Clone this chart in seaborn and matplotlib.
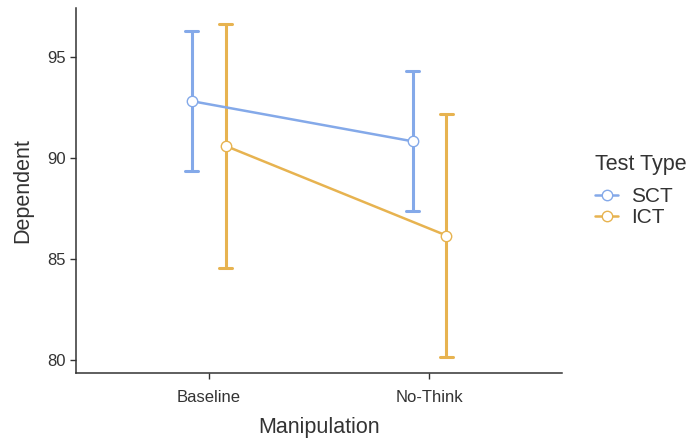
import numpy as np
import pandas as pd
import matplotlib
matplotlib.use("Agg")
import matplotlib.pyplot as plt
import seaborn as sns
from matplotlib.lines import Line2D

manipulation = ["Baseline", "No-Think"]
test_types = ["SCT", "ICT"]
sct_mean = [92.83, 90.84]
sct_lower = [89.36, 87.37]
sct_upper = [96.30, 94.31]
ict_mean = [90.61, 86.17]
ict_lower = [84.56, 80.15]
ict_upper = [96.66, 92.19]
colors = ["#84a9e9", "#e7b350"]

rows = []
for tt, mean, lo, hi in [("SCT", sct_mean, sct_lower, sct_upper),
                         ("ICT", ict_mean, ict_lower, ict_upper)]:
    for i, m in enumerate(manipulation):
        for v in (lo[i], mean[i], hi[i]):
            rows.append({"Manipulation": m, "Test Type": tt, "Dependent": v})
df = pd.DataFrame(rows)

sns.set_theme(style="ticks")
plt.rcParams["font.family"] = ["Liberation Sans", "DejaVu Sans"]

fig, ax = plt.subplots(figsize=(6.87, 4.38), dpi=100)
fig.subplots_adjust(left=0.111, right=0.818, top=0.982, bottom=0.148)

sns.pointplot(data=df, x="Manipulation", y="Dependent", hue="Test Type",
              order=manipulation, hue_order=test_types, palette=colors,
              estimator=np.median, errorbar=lambda v: (v.min(), v.max()),
              dodge=0.154, capsize=0.06, err_kws={"linewidth": 2.2},
              linewidth=1.8, markers="o", markersize=7.5,
              markeredgewidth=1.0,
              legend=False, ax=ax)

for ln in ax.lines:
    if ln.get_marker() not in (None, "None", "", " "):
        ln.set_markerfacecolor("white")
        ln.set_zorder(5)

ax.set_xlim(-0.6, 1.6)
ax.set_ylim(79.35, 97.45)
ax.set_yticks([80, 85, 90, 95])
ax.set_xlabel("Manipulation", fontsize=15.5, color="#333333", labelpad=9)
ax.set_ylabel("Dependent", fontsize=15.5, color="#333333", labelpad=10)
ax.tick_params(axis="both", labelsize=12, colors="#333333", length=4, width=1)
ax.tick_params(axis="x", pad=8)
for s in ["left", "bottom"]:
    ax.spines[s].set_color("#333333")
    ax.spines[s].set_linewidth(1.1)
sns.despine(ax=ax)

handles = [Line2D([0], [0], color=c, lw=1.8, marker="o", markersize=7.5,
                  markerfacecolor="white", markeredgecolor=c) for c in colors]
leg = ax.legend(handles, test_types, title="Test Type", loc="center left",
                bbox_to_anchor=(1.03, 0.50), frameon=False, fontsize=15,
                title_fontsize=15.5, handlelength=1.1, handletextpad=0.6,
                labelspacing=0.1, alignment="left")
leg._legend_box.sep = 9
for t in leg.get_texts():
    t.set_color("#333333")
leg.get_title().set_color("#333333")

fig.savefig("out.png", dpi=100)
